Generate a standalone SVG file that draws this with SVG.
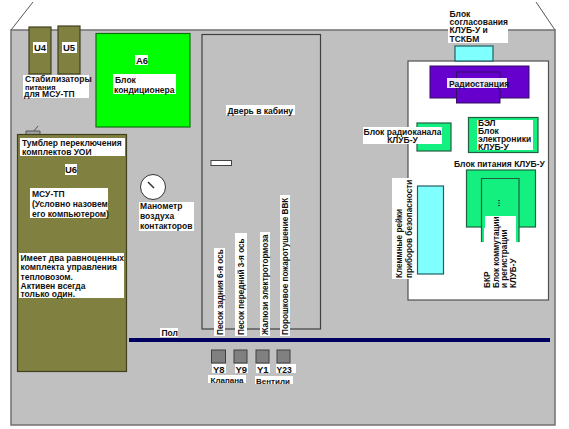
<svg xmlns="http://www.w3.org/2000/svg" width="569" height="429" viewBox="0 0 569 429">
<style>
text{font-family:"Liberation Sans",Arial,sans-serif;font-size:8.5px;font-weight:bold;fill:#111}
.l{fill:#fff;stroke:none}
.o{fill:#808040;stroke:#404020;stroke-width:1.2}
.g{fill:#14f080;stroke:#206040;stroke-width:1.2}
.c{fill:#80ffff;stroke:#206060;stroke-width:1.2}
.p{fill:#6600cc;stroke:#301060;stroke-width:1}
.y{fill:#808080;stroke:#404040;stroke-width:1}
.w{font-size:9.5px}
.v{font-size:8.2px}
.s{font-size:8px}
.t{font-size:7.5px}
</style>
<rect width="569" height="429" fill="#fff"/>
<g id="cabin">
<path d="M11 30H555V425H11Z" fill="#c0c0c0" stroke="#707070" stroke-width="1.5"/>
<path d="M11 30L33 2M555 30L536 2" fill="none" stroke="#555" stroke-width="1"/>
</g>
<g id="U4"><rect class="o" x="29" y="27" width="22" height="47"/><rect class="l" x="33" y="42" width="14" height="11"/><text class="w" x="34" y="51">U4</text></g>
<g id="U5"><rect class="o" x="58" y="26" width="22" height="48"/><rect class="l" x="62" y="42" width="15" height="11"/><text class="w" x="63" y="51">U5</text></g>
<g id="stab-label"><rect class="l" x="23" y="75" width="66" height="23"/><text x="25" y="82">Стабилизаторы</text><text class="t" x="25" y="89.500">питания</text><text x="24" y="97">для МСУ-ТП</text></g>
<g id="A6"><rect x="96" y="33.500" width="94" height="93.500" fill="#00ff00" stroke="#107010" stroke-width="1.200"/><rect class="l" x="135" y="55" width="13" height="10"/><text class="w" x="136" y="64">А6</text><rect class="l" x="113" y="74" width="63" height="20"/><text x="115" y="83">Блок</text><text x="114" y="93">кондиционера</text></g>
<g id="U6"><path d="M26 134V131H40V134M34 131L38 126" fill="#a0a0a0" stroke="#555" stroke-width="1"/><rect class="o" x="17.500" y="134.500" width="109" height="237"/><rect class="l" x="20" y="138" width="105" height="18"/><text x="22" y="146">Тумблер переключения</text><text x="22" y="155">комплектов УОИ</text><rect class="l" x="65" y="164" width="12" height="11"/><text class="w" x="65" y="173">U6</text><rect class="l" x="30" y="188" width="78" height="30"/><text x="32" y="197">МСУ-ТП</text><text x="32" y="207">(Условно назовем</text><text x="32" y="217">его компьютером)</text><rect class="l" x="19" y="253" width="105" height="45"/><text x="20.500" y="261">Имеет два равноценных</text><text x="20.500" y="270">комплекта управления</text><text x="20.500" y="279.500">тепловозом.</text><text x="20.500" y="288.500">Активен всегда</text><text x="20.500" y="297">только один.</text></g>
<g id="manometer"><circle cx="153" cy="187" r="12.500" fill="#fff" stroke="#333" stroke-width="1"/><path d="M148 182L154 188" stroke="#333" stroke-width="1.500"/><rect class="l" x="139" y="202" width="55" height="29"/><text x="140" y="209">Манометр</text><text x="140" y="219">воздуха</text><text x="140" y="229">контакторов</text></g>
<g id="door"><rect x="202" y="34.500" width="118.500" height="294.500" fill="#c0c0c0" stroke="#404040" stroke-width="1.200"/><rect x="211" y="160.500" width="20.500" height="5" fill="#fff" stroke="#444" stroke-width="1"/><rect class="l" x="226" y="105" width="69" height="10"/><text x="227.500" y="113.500">Дверь в кабину</text></g>
<g id="vertical-labels"><rect class="l" x="214" y="248" width="11" height="88"/><text class="v" transform="translate(223,335) rotate(-90)">Песок задния 6-я ось</text><rect class="l" x="235" y="233" width="12" height="103"/><text class="v" transform="translate(244,335) rotate(-90)">Песок передний 3-я ось</text><rect class="l" x="260" y="232" width="10" height="104"/><text class="v" transform="translate(268,335) rotate(-90)">Жалюзи электротормоза</text><rect class="l" x="280" y="195" width="10" height="141"/><text class="v" transform="translate(288,335) rotate(-90)">Порошковое пожаротушение ВВК</text></g>
<g id="floor"><rect x="129" y="338" width="421" height="4" fill="#000060"/><rect class="l" x="160" y="328" width="18" height="9"/><text x="161.500" y="336">Пол</text></g>
<g id="Y8"><rect class="y" x="211.500" y="350" width="14" height="13"/><rect class="l" x="212" y="364" width="14" height="9"/><text x="213" y="372.500" class="w">Y8</text></g>
<g id="Y9"><rect class="y" x="234" y="350" width="13" height="13"/><rect class="l" x="235" y="364" width="13" height="9"/><text x="235.500" y="372.500" class="w">Y9</text></g>
<g id="Y1"><rect class="y" x="256" y="350" width="13" height="13"/><rect class="l" x="256" y="364" width="14" height="9"/><text x="257" y="372.500" class="w">Y1</text></g>
<g id="Y23"><rect class="y" x="277" y="350" width="13" height="13"/><rect class="l" x="276" y="364" width="20" height="9"/><text x="276.500" y="372.500" style="font-size:8.500px">Y23</text></g>
<g id="valve-labels"><rect class="l" x="208" y="375" width="38" height="8"/><text class="s" x="210.500" y="382.500">Клапана</text><rect class="l" x="255" y="376" width="38" height="8"/><text class="s" x="256" y="383.500">Вентили</text></g>
<g id="klub-panel"><rect x="408" y="61" width="140.500" height="239" fill="#fff" stroke="#505050" stroke-width="1.200"/></g>
<g id="tskbm"><rect class="c" x="455" y="46" width="38" height="15"/><rect class="l" x="448" y="10" width="60" height="33"/><text x="449.500" y="17">Блок</text><text x="449.500" y="25">согласования</text><text x="449.500" y="33">КЛУБ-У и</text><text x="449.500" y="41.500">ТСКБМ</text></g>
<g id="radio"><rect class="p" x="430" y="66" width="99" height="32"/><rect class="p" x="456.500" y="72" width="43.500" height="31"/><rect x="447" y="78" width="60" height="10" fill="#fff" fill-opacity=".9"/><text x="449" y="86.500">Радиостанция</text></g>
<g id="radio-channel"><rect class="g" x="417" y="123" width="34" height="28"/><rect class="l" x="363" y="127" width="79" height="17"/><text x="402.500" y="134.500" text-anchor="middle">Блок радиоканала</text><text x="402.500" y="143" text-anchor="middle">КЛУБ-У</text></g>
<g id="bel"><rect class="g" x="468.500" y="117.500" width="69.500" height="35"/><rect class="l" x="477" y="120" width="56" height="30"/><text x="478" y="126">БЭЛ</text><text x="478" y="134">Блок</text><text x="478" y="142">электроники</text><text x="478" y="149.500">КЛУБ-У</text></g>
<g id="power"><rect class="g" x="466.500" y="170" width="69" height="57"/><path d="M481.500 242V178.500H519V242" fill="#14f080" stroke="#206040" stroke-width="1.200"/><rect class="l" x="485" y="216" width="31" height="26"/><rect class="l" x="484" y="228" width="32" height="14"/><path d="M499 200V207" stroke="#222" stroke-width="1.500" stroke-dasharray="1 1.500"/><text x="454" y="167">Блок питания КЛУБ-У</text></g>
<g id="bkr-label"><text class="v" transform="translate(490,288) rotate(-90)">БКР</text><text class="v" transform="translate(498.500,288) rotate(-90)">Блок коммутации</text><text class="v" transform="translate(507,288) rotate(-90)">и регистрации</text><text class="v" transform="translate(515.500,288) rotate(-90)">КЛУБ-У</text></g>
<g id="terminals"><rect class="c" x="417.500" y="186" width="26" height="88"/><rect class="l" x="392" y="178" width="22" height="101"/><text class="v" transform="translate(402,278) rotate(-90)">Клеммные рейки</text><text class="v" transform="translate(412,278) rotate(-90)">приборов безопасности</text></g>
</svg>
